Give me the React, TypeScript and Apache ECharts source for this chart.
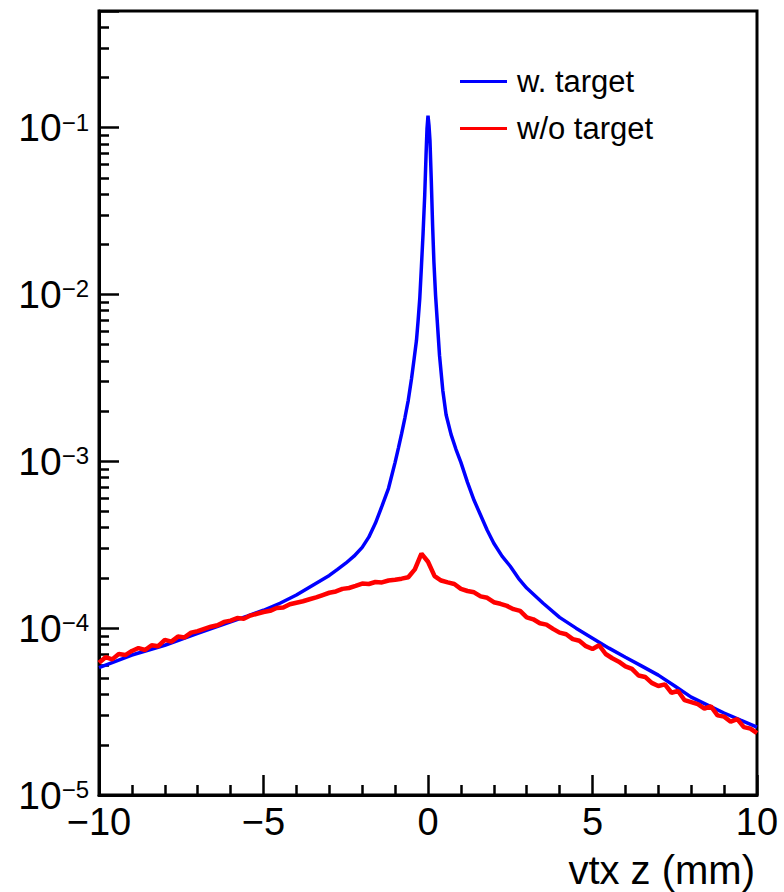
import React, { useEffect, useRef } from 'react';
import * as echarts from 'echarts';

const FONT = '"Liberation Sans", Arial, Helvetica, sans-serif';

// Vertex z distribution with the target in place (normalised counts per bin)
const blueZ = [
  -10, -9, -8, -7, -6, -5.5, -5, -4.5, -4, -3.5, -3, -2.75, -2.5, -2.25, -2,
  -1.8, -1.6, -1.4, -1.2, -1, -0.9, -0.8, -0.7, -0.6, -0.5, -0.42, -0.35, -0.3,
  -0.25, -0.2, -0.15, -0.1, -0.06, -0.03, 0, 0.03, 0.06, 0.1, 0.14, 0.18, 0.23,
  0.28, 0.35, 0.45, 0.55, 0.7, 0.85, 1, 1.2, 1.4, 1.6, 1.8, 2, 2.25, 2.5, 2.75,
  3, 3.5, 4, 4.5, 5, 5.5, 6, 6.5, 7, 7.5, 8, 8.5, 9, 9.5, 10,
];
const blueVal = [
  5.8e-5, 6.9e-5, 7.9e-5, 9.3e-5, 1.09e-4, 1.18e-4, 1.28e-4, 1.41e-4, 1.58e-4,
  1.81e-4, 2.07e-4, 2.25e-4, 2.45e-4, 2.7e-4, 3.05e-4, 3.51e-4, 4.25e-4,
  5.38e-4, 6.89e-4, 9.86e-4, 1.2e-3, 1.47e-3, 1.83e-3, 2.32e-3, 3.14e-3,
  4.14e-3, 5.31e-3, 6.99e-3, 9.46e-3, 0.0147, 0.0232, 0.0392, 0.0679, 0.0986,
  0.118, 0.103, 0.0836, 0.0482, 0.0259, 0.0156, 9.87e-3, 6.99e-3, 4.31e-3,
  2.66e-3, 1.9e-3, 1.45e-3, 1.18e-3, 9.86e-4, 7.48e-4, 5.84e-4, 4.75e-4,
  3.86e-4, 3.23e-4, 2.7e-4, 2.35e-4, 1.99e-4, 1.74e-4, 1.41e-4, 1.16e-4,
  1.0e-4, 8.71e-5, 7.59e-5, 6.7e-5, 5.92e-5, 5.23e-5, 4.5e-5, 3.86e-5,
  3.46e-5, 3.1e-5, 2.81e-5, 2.55e-5,
];

// Same distribution without the target, binned every 0.2 mm from -10 mm
const RED_Z_START = -10;
const RED_Z_STEP = 0.2;
const redVal = [
  6.2e-5, 6.7e-5, 6.5e-5, 7.0e-5, 6.9e-5, 7.3e-5, 7.6e-5, 7.4e-5, 7.9e-5, 7.8e-5,
  8.5e-5, 8.3e-5, 8.9e-5, 8.8e-5, 9.4e-5, 9.6e-5, 9.9e-5, 1.02e-4, 1.04e-4, 1.09e-4,
  1.11e-4, 1.15e-4, 1.14e-4, 1.19e-4, 1.22e-4, 1.25e-4, 1.27e-4, 1.32e-4, 1.33e-4, 1.39e-4,
  1.42e-4, 1.45e-4, 1.49e-4, 1.53e-4, 1.58e-4, 1.63e-4, 1.66e-4, 1.72e-4, 1.74e-4, 1.79e-4,
  1.85e-4, 1.84e-4, 1.89e-4, 1.88e-4, 1.93e-4, 1.95e-4, 1.98e-4, 2.02e-4, 2.25e-4, 2.80e-4,
  2.50e-4, 2.05e-4, 1.93e-4, 1.88e-4, 1.84e-4, 1.72e-4, 1.67e-4, 1.64e-4, 1.55e-4, 1.52e-4,
  1.43e-4, 1.40e-4, 1.36e-4, 1.30e-4, 1.27e-4, 1.16e-4, 1.13e-4, 1.07e-4, 1.05e-4, 9.9e-5,
  9.4e-5, 9.2e-5, 8.6e-5, 8.4e-5, 7.8e-5, 7.5e-5, 7.9e-5, 7.0e-5, 6.6e-5, 6.3e-5,
  5.9e-5, 5.7e-5, 5.2e-5, 5.1e-5, 4.7e-5, 4.5e-5, 4.6e-5, 4.1e-5, 4.2e-5, 3.7e-5,
  3.6e-5, 3.5e-5, 3.3e-5, 3.4e-5, 3.0e-5, 2.95e-5, 2.75e-5, 2.85e-5, 2.55e-5, 2.5e-5,
  2.35e-5,
];

const seriesNames = ['w. target', 'w/o target'];
const X_MIN = -10;
const X_MAX = 10;
const Y_MIN = 1e-5;
const Y_MAX = 0.5;
const X_TITLE = 'vtx z (mm)';

export default function App() {
  const ref = useRef<HTMLDivElement>(null);

  useEffect(() => {
    if (!ref.current) return;
    const chart = echarts.init(ref.current, undefined, { renderer: 'svg' });

    const blueData = blueZ.map((z, i) => [z, blueVal[i]]);
    const redData = redVal.map((v, i) => [
      Math.round((RED_Z_START + i * RED_Z_STEP) * 10) / 10,
      v,
    ]);

    // Minor decade ticks (2..9 x 10^n) expressed as exponents on a helper axis
    const minorExp: number[] = [];
    const lo = Math.round(Math.log10(Y_MIN));
    for (let n = lo; n < 0; n++) {
      for (let k = 2; k <= 9; k++) {
        const e = n + Math.log10(k);
        if (e <= Math.log10(Y_MAX) + 1e-9) minorExp.push(e);
      }
    }

    const tickStyle = { color: '#000', width: 2.5 };

    const option: any = {
      animation: false,
      backgroundColor: '#ffffff',
      grid: {
        left: 99,
        right: 27,
        top: 11,
        bottom: 97,
        show: true,
        borderColor: '#000',
        borderWidth: 3,
        backgroundColor: 'transparent',
        outerBoundsMode: 'none',
      },
      legend: {
        orient: 'vertical',
        left: 455,
        top: 61,
        icon: 'rect',
        itemWidth: 47,
        itemHeight: 3,
        itemGap: 16,
        data: seriesNames,
        textStyle: {
          fontSize: 31,
          lineHeight: 31,
          color: '#000',
          fontFamily: FONT,
          padding: [0, 0, 0, 5],
        },
      },
      xAxis: {
        type: 'value',
        min: X_MIN,
        max: X_MAX,
        interval: 5,
        axisLine: { onZero: false, lineStyle: { color: '#000', width: 3 } },
        axisTick: { inside: true, length: 20, lineStyle: tickStyle },
        minorTick: { show: true, splitNumber: 5, length: 10, lineStyle: tickStyle },
        splitLine: { show: false },
        axisLabel: {
          fontSize: 38,
          color: '#000',
          fontFamily: FONT,
          margin: 8,
          formatter: (v: number) => String(v).replace('-', '\u2212'),
        },
      },
      yAxis: [
        {
          type: 'log',
          logBase: 10,
          min: Y_MIN,
          max: Y_MAX,
          position: 'left',
          axisLine: { onZero: false, lineStyle: { color: '#000', width: 3 } },
          axisTick: { inside: true, length: 20, lineStyle: tickStyle },
          splitLine: { show: false },
          axisLabel: {
            margin: 10,
            formatter: (v: number) => {
              const e = Math.log10(v);
              if (Math.abs(e - Math.round(e)) > 1e-6) return '';
              return `{b|10}{s|\u2212${Math.abs(Math.round(e))}}`;
            },
            rich: {
              b: {
                fontSize: 39,
                lineHeight: 39,
                color: '#000',
                fontFamily: FONT,
                padding: [10, 0, 0, 0],
                verticalAlign: 'bottom',
              },
              s: {
                fontSize: 24,
                lineHeight: 24,
                color: '#000',
                fontFamily: FONT,
                padding: [2, 0, 0, 0],
                verticalAlign: 'top',
              },
            },
          },
        },
        {
          type: 'value',
          min: lo,
          max: Math.log10(Y_MAX),
          position: 'left',
          axisLine: { show: false, onZero: false },
          axisLabel: { show: false },
          splitLine: { show: false },
          axisTick: {
            inside: true,
            length: 10,
            lineStyle: tickStyle,
            customValues: minorExp,
          },
        },
      ],
      series: [
        {
          name: seriesNames[0],
          type: 'line',
          yAxisIndex: 0,
          data: blueData,
          symbol: 'none',
          lineStyle: { color: '#0000ff', width: 3.5 },
          itemStyle: { color: '#0000ff' },
          z: 2,
        },
        {
          name: seriesNames[1],
          type: 'line',
          yAxisIndex: 0,
          data: redData,
          symbol: 'none',
          lineStyle: { color: '#ff0000', width: 4.5 },
          itemStyle: { color: '#ff0000' },
          z: 3,
        },
      ],
      graphic: [
        {
          type: 'text',
          right: 29,
          top: 850,
          style: {
            text: X_TITLE,
            fontSize: 40,
            fontFamily: FONT,
            fill: '#000',
          },
        },
      ],
    };

    chart.setOption(option);
    return () => chart.dispose();
  }, []);

  return (
    <div
      ref={ref}
      style={{ position: 'fixed', left: 0, top: 0, width: 784, height: 892, background: '#fff' }}
    />
  );
}
